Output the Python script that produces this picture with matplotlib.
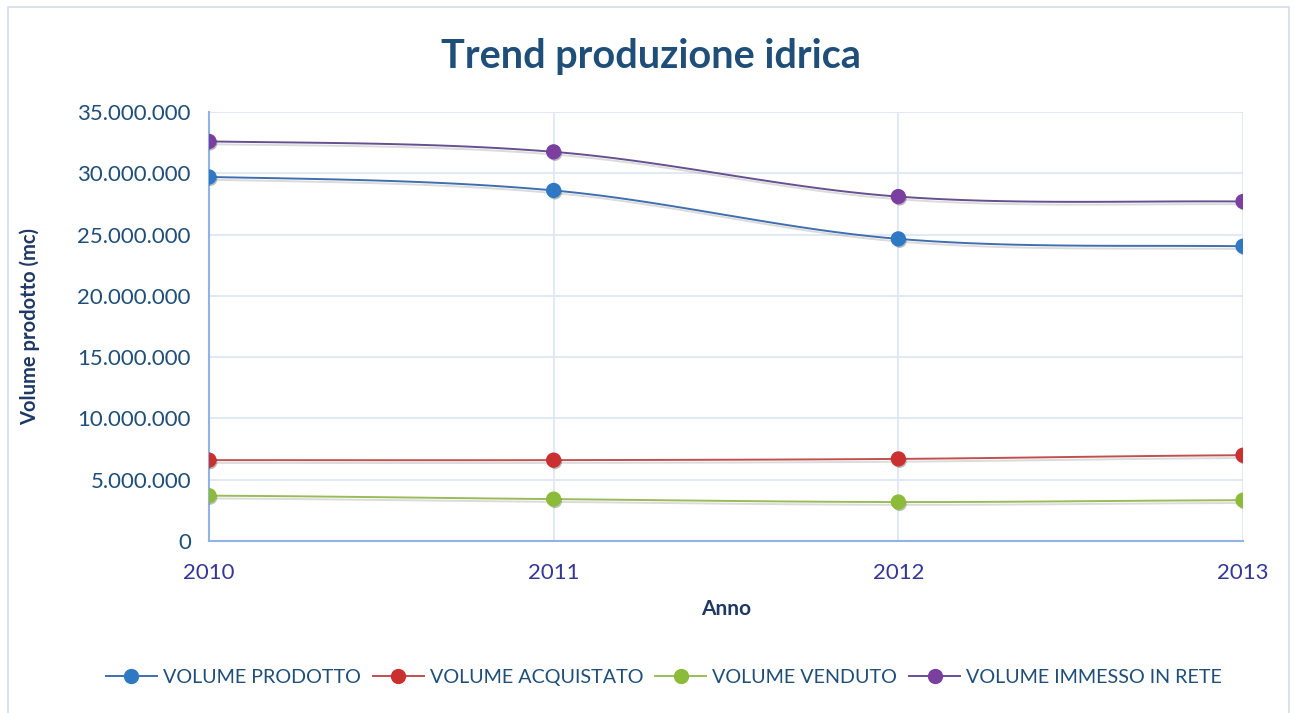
import matplotlib
matplotlib.use("Agg")
import matplotlib.pyplot as plt
import matplotlib.patheffects as pe
from matplotlib.patches import Rectangle
from matplotlib.ticker import FuncFormatter
import numpy as np

plt.rcParams['font.family'] = ['Lato', 'DejaVu Sans']

anni = [2010, 2011, 2012, 2013]
prodotto = [29700000, 28600000, 24650000, 24050000]
acquistato = [6600000, 6600000, 6700000, 7000000]
venduto = [3700000, 3420000, 3180000, 3330000]
immesso = [32600000, 31750000, 28100000, 27700000]

serie = [
    ("VOLUME PRODOTTO", prodotto, "#3f6fae", "#2f78c4"),
    ("VOLUME ACQUISTATO", acquistato, "#c0504d", "#c9302f"),
    ("VOLUME VENDUTO", venduto, "#9bbb59", "#8cbb3a"),
    ("VOLUME IMMESSO IN RETE", immesso, "#66508f", "#7a3f9f"),
]


def smooth(x, y, n=40):
    # catmull-rom, simile allo "smussamento" di Excel
    x = np.asarray(x, float)
    y = np.asarray(y, float)
    px = np.concatenate([[2 * x[0] - x[1]], x, [2 * x[-1] - x[-2]]])
    py = np.concatenate([[y[0]], y, [y[-1]]])
    xs, ys = [], []
    t = np.linspace(0, 1, n)
    for i in range(1, len(px) - 2):
        for p, out in ((px, xs), (py, ys)):
            p0, p1, p2, p3 = p[i - 1], p[i], p[i + 1], p[i + 2]
            c1 = p1 + (p2 - p0) / 6
            c2 = p2 - (p3 - p1) / 6
            out.extend((1 - t) ** 3 * p1 + 3 * (1 - t) ** 2 * t * c1
                       + 3 * (1 - t) * t ** 2 * c2 + t ** 3 * p2)
    return np.array(xs), np.array(ys)


fig = plt.figure(figsize=(12.94, 7.13), dpi=100)
fig.patches.append(Rectangle((0.006, -0.01), 0.99, 1.0, transform=fig.transFigure,
                             fill=False, edgecolor="#d6dde9", linewidth=1.2))
ax = fig.add_axes([0.1615, 0.2412, 0.7991, 0.6017])

ombra = [pe.SimpleLineShadow(offset=(1.5, -2), shadow_color="#999999", alpha=0.35),
         pe.Normal()]
handles = []
for nome, valori, col_linea, col_punto in serie:
    sx, sy = smooth(anni, valori)
    ax.plot(sx, sy, color=col_linea, linewidth=1.4, path_effects=ombra, zorder=3)
    ax.plot(anni, valori, "o", color=col_punto, markersize=10, zorder=4,
            path_effects=[pe.SimplePatchShadow(offset=(1, -1.5), alpha=0.3), pe.Normal()])
    h, = ax.plot([], [], "-o", color=col_linea, markerfacecolor=col_punto,
                 markeredgecolor=col_punto, markersize=10, linewidth=1.4)
    handles.append(h)

ax.set_xlim(2010, 2013)
ax.set_ylim(0, 35000000)
ax.set_xticks(anni)
ax.set_yticks(np.arange(0, 35000001, 5000000))
ax.yaxis.set_major_formatter(FuncFormatter(lambda v, p: f"{int(v):,}".replace(",", ".")))
ax.grid(True, color="#dbe5f3", linewidth=1.2, zorder=0)
ax.set_axisbelow(True)
for s in ("top", "right"):
    ax.spines[s].set_visible(False)
for s in ("left", "bottom"):
    ax.spines[s].set_color("#8fb3e3")
    ax.spines[s].set_linewidth(1.5)
ax.tick_params(axis="y", length=0, pad=13, labelsize=16, labelcolor="#1f4e79")
ax.tick_params(axis="x", length=0, pad=16, labelsize=16, labelcolor="#353797")

ax.set_xlabel("Anno", fontsize=15, fontweight="bold", color="#1f3864")
ax.set_ylabel("Volume prodotto (mc)", fontsize=14.5, fontweight="bold", color="#1f3864")
ax.xaxis.set_label_coords(0.5, -0.135)
ax.yaxis.set_label_coords(-0.163, 0.5)
fig.text(0.503, 0.921, "Trend produzione idrica", ha="center", va="center",
         fontsize=28.5, fontweight="bold", color="#1f4e79")

fig.legend(handles, [s[0] for s in serie], loc="center", bbox_to_anchor=(0.513, 0.05),
           ncol=4, frameon=False, fontsize=14.2, handlelength=2.6, handletextpad=0.3,
           columnspacing=0.6, labelcolor="#1f4e79")

fig.savefig("out.png", dpi=100, facecolor="white")
